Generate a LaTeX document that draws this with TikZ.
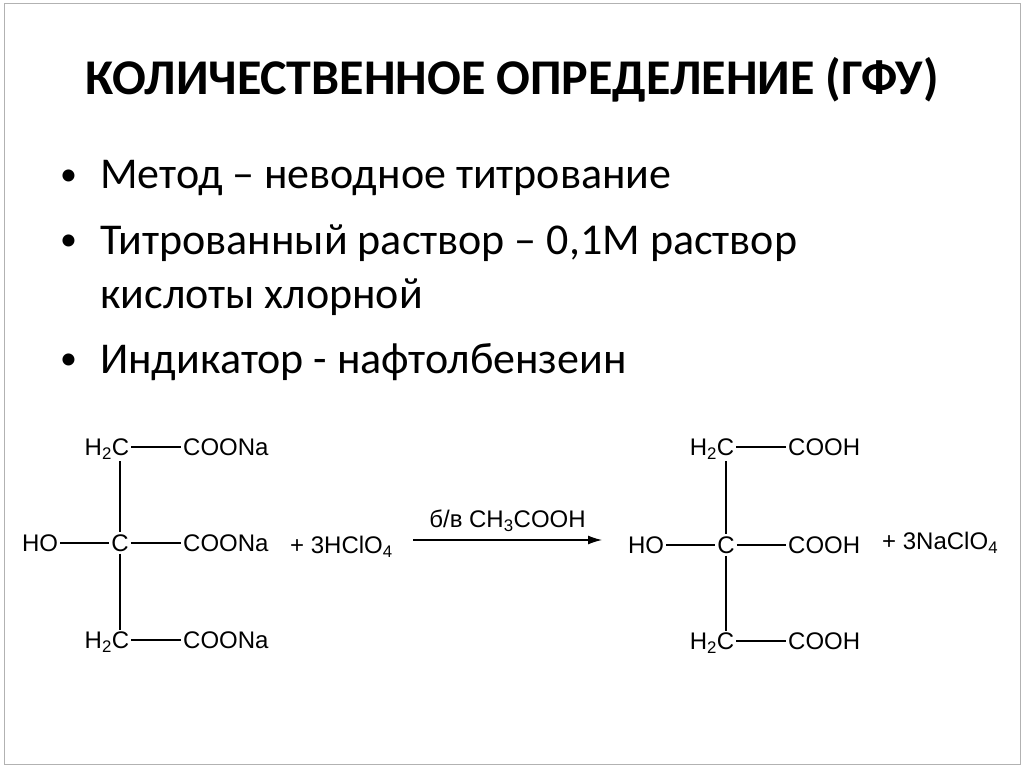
\documentclass[tikz,border=0pt]{standalone}
\usepackage{fontspec}
\setmainfont{Carlito}
\newfontfamily\chemfont{Liberation Sans}
\usetikzlibrary{positioning,arrows.meta}
\tikzset{
  bul/.style={anchor=west,font=\fontsize{44}{50}\selectfont,inner sep=0pt},
  chem/.style={font=\chemfont\fontsize{24}{28}\selectfont,inner sep=2pt},
  bond/.style={line width=1.3pt}
}
\begin{document}
\begin{tikzpicture}[x=1pt,y=-1pt]
  \useasboundingbox (0,0) rectangle (1024,768);
  \draw[gray!60,line width=1pt] (4,4) rectangle (1020,764);
  \node[font=\bfseries\fontsize{50}{56}\selectfont] (title) at (512,80) {КОЛИЧЕСТВЕННОЕ ОПРЕДЕЛЕНИЕ (ГФУ)};
  % bullets
  \foreach \y in {178,243,362} \node[bul,font=\fontsize{34}{40}\selectfont] at (60,\y) {•};
  \node[bul] (b1) at (100,178) {Метод – неводное титрование};
  \node[bul] (b2) at (100,243) {Титрованный раствор – 0,1М раствор};
  \node[bul] (b3) at (100,297) {кислоты хлорной};
  \node[bul] (b4) at (100,362) {Индикатор - нафтолбензеин};
  % left structure
  \node[chem] (lh1) at (107,449) {H\textsubscript{2}C};
  \node[chem,anchor=west] (la1) at (181,447) {COONa};
  \node[chem] (lc) at (120,543) {C};
  \node[chem] (lho) at (40,543) {HO};
  \node[chem,anchor=west] (la2) at (181,543) {COONa};
  \node[chem] (lh2) at (107,642) {H\textsubscript{2}C};
  \node[chem,anchor=west] (la3) at (181,640) {COONa};
  \draw[bond] (lh1.east |- la1) -- (la1) (lc) -- (la2) (lho) -- (lc) (lh2.east |- la3) -- (la3);
  \draw[bond] (lc.north |- lh1.south) -- (lc.north) (lc.south) -- (lc.south |- lh2.north);
  \node[chem,anchor=west] (reag) at (288,547) {+ 3HClO\textsubscript{4}};
  % arrow
  \coordinate (ar1) at (413,540);
  \coordinate (ar2) at (602,540);
  \draw[bond,-{Latex[length=14pt,width=9pt]}] (ar1) -- (ar2) node[chem,midway,above=6pt] {б/в CH\textsubscript{3}COOH};
  % right structure
  \node[chem] (rh1) at (712,449) {H\textsubscript{2}C};
  \node[chem,anchor=west] (ra1) at (786,447) {COOH};
  \node[chem] (rc) at (726,545) {C};
  \node[chem] (rho) at (646,545) {HO};
  \node[chem,anchor=west] (ra2) at (786,545) {COOH};
  \node[chem] (rh2) at (712,643) {H\textsubscript{2}C};
  \node[chem,anchor=west] (ra3) at (786,641) {COOH};
  \draw[bond] (rh1.east |- ra1) -- (ra1) (rc) -- (ra2) (rho) -- (rc) (rh2.east |- ra3) -- (ra3);
  \draw[bond] (rc.north |- rh1.south) -- (rc.north) (rc.south) -- (rc.south |- rh2.north);
  \node[chem,anchor=west] (prod) at (880,543) {+ 3NaClO\textsubscript{4}};
\end{tikzpicture}
\end{document}
